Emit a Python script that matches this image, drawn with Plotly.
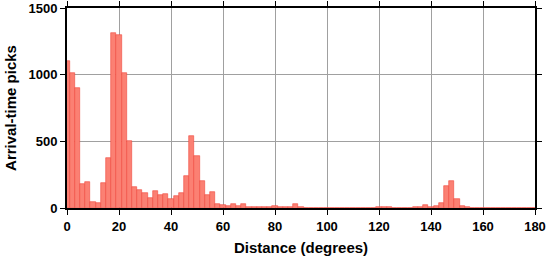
import plotly.graph_objects as go

# Bin centres (degrees), 2-degree bins
bin_centers = list(range(0, 182, 2))
counts = [
    1100, 1015, 900, 182, 197, 47, 40, 189, 376, 1316,
    1296, 1010, 500, 159, 137, 109, 77, 129, 100, 107,
    70, 92, 114, 241, 540, 391, 204, 97, 122, 27,
    20, 12, 30, 15, 30, 5, 10, 10, 10, 8,
    12, 5, 5, 8, 30, 4, 3, 3, 3, 3,
    0, 3, 2, 2, 2, 3, 3, 0, 0, 3,
    4, 10, 4, 3, 0, 0, 3, 8, 8, 25,
    6, 12, 35, 165, 204, 70, 17, 5, 3, 3,
    3, 3, 3, 0, 0, 0, 0, 0, 0, 0,
    0,
]
x_ticks = list(range(0, 181, 20))
y_ticks = [0, 500, 1000, 1500]

fig = go.Figure(
    go.Bar(
        x=bin_centers,
        y=counts,
        width=2,
        marker=dict(color="#fb8073", line=dict(color="#f0463c", width=0.6)),
    )
)

axis_font = dict(family="Liberation Sans", size=13, color="black", weight="bold")
title_font = dict(family="Liberation Sans", size=15, color="black", weight="bold")

fig.update_layout(
    width=547,
    height=258,
    margin=dict(l=67, r=12, t=8, b=50, autoexpand=False),
    paper_bgcolor="white",
    plot_bgcolor="white",
    showlegend=False,
    bargap=0,
)
fig.update_xaxes(
    range=[0, 180],
    tickvals=x_ticks,
    ticks="outside",
    ticklen=5,
    tickcolor="black",
    tickwidth=1,
    showline=True,
    linecolor="black",
    linewidth=2,
    mirror="allticks",
    showgrid=True,
    gridcolor="#a0a0a0",
    gridwidth=1,
    zeroline=False,
    tickfont=axis_font,
    title=dict(text="Distance (degrees)", font=title_font, standoff=10),
)
fig.update_yaxes(
    range=[0, 1500],
    tickvals=y_ticks,
    ticks="outside",
    ticklen=5,
    tickcolor="black",
    tickwidth=1,
    showline=True,
    linecolor="black",
    linewidth=2,
    mirror="allticks",
    showgrid=True,
    gridcolor="#a0a0a0",
    gridwidth=1,
    zeroline=False,
    tickfont=axis_font,
    title=dict(text="Arrival-time picks", font=title_font, standoff=8),
)

fig.write_html("out.html")
